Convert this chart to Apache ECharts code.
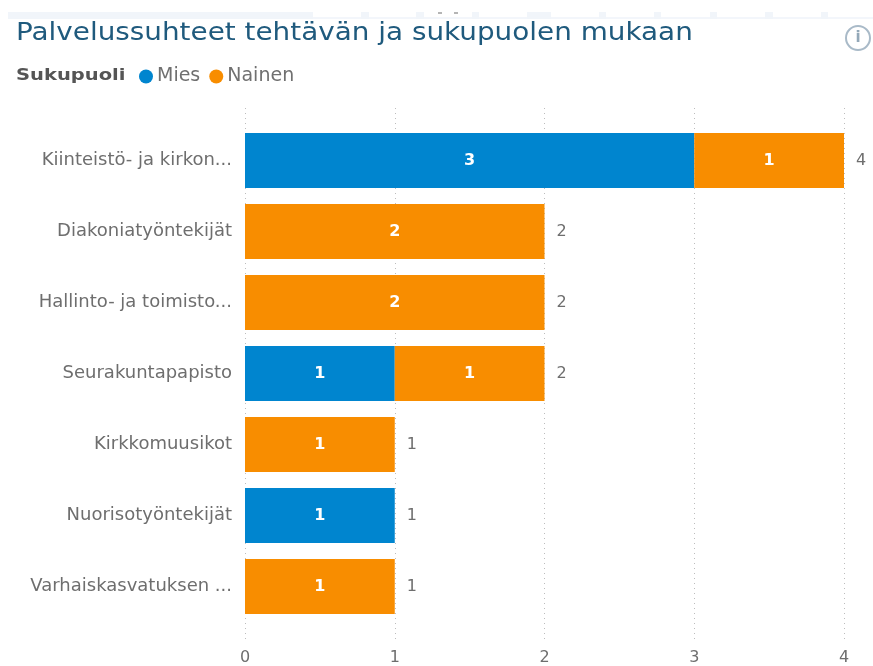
<!DOCTYPE html>
<html>
<head>
<meta charset="utf-8">
<title>Palvelussuhteet</title>
<script src="https://cdn.jsdelivr.net/npm/echarts@6/dist/echarts.min.js"></script>
<style>
    html, body { margin: 0; padding: 0; background: #fff; }
    #chart { width: 873px; height: 666px; }
</style>
</head>
<body>
<div id="chart"></div>
<script>
const categories = ['Kiinteistö- ja kirkon...', 'Diakoniatyöntekijät', 'Hallinto- ja toimisto...', 'Seurakuntapapisto', 'Kirkkomuusikot', 'Nuorisotyöntekijät', 'Varhaiskasvatuksen ...'];
const mies = [3, null, null, 1, null, 1, null];
const nainen = [1, 2, 2, 1, 1, null, 1];
const totals = [4, 2, 2, 2, 1, 1, 1];
const ticks = [0, 1, 2, 3, 4];

const fontFamily = '"DejaVu Sans", Verdana, sans-serif';
const blue = '#0085cf';
const orange = '#f88d00';
const grey = '#6e6e6e';

// remains of the page above the chart: [x, width]
const stripBlocks = [[361, 8], [416, 8], [472, 7], [527, 24], [599, 7], [654, 7], [710, 7], [765, 8], [821, 7]];
const stripMarks = [[438, 4], [454, 4]];

let chart = echarts.init(document.getElementById('chart'));

function barLabel() {
    return {
        show: true,
        color: '#fff',
        fontFamily: fontFamily,
        fontSize: 16,
        fontWeight: 'bold',
        formatter: (p) => p.value === null ? '' : p.value
    };
}

let option = {
    animation: false,
    backgroundColor: '#fff',
    legend: {
        data: ['Mies', 'Nainen'],
        left: 139,
        top: 67,
        padding: 0,
        itemGap: 9,
        itemWidth: 16,
        itemHeight: 14,
        icon: 'circle',
        textStyle: { color: '#707070', fontFamily: fontFamily, fontSize: 19, padding: [0, 0, 0, -2] }
    },
    // the first grid only carries the taller dotted lines behind the bars
    grid: [
        { left: 245, right: 29, top: 108, height: 532 },
        { left: 245, right: 29, top: 125, height: 497 }
    ],
    xAxis: [
        {
            type: 'value',
            gridIndex: 0,
            min: 0,
            max: 4,
            interval: 1,
            axisLine: { show: false },
            axisTick: { show: false },
            axisLabel: {
                color: grey,
                fontFamily: fontFamily,
                fontSize: 16,
                margin: 10,
                formatter: (v) => ticks.includes(v) ? v : ''
            },
            splitLine: { show: true, lineStyle: { color: '#bdbdbd', type: [1, 4], width: 1 } }
        },
        {
            type: 'value',
            gridIndex: 1,
            min: 0,
            max: 4,
            interval: 1,
            axisLine: { show: false },
            axisTick: { show: false },
            axisLabel: { show: false },
            splitLine: { show: false }
        }
    ],
    yAxis: [
        {
            type: 'category',
            gridIndex: 0,
            data: categories,
            inverse: true,
            axisLine: { show: false },
            axisTick: { show: false },
            axisLabel: { show: false }
        },
        {
            type: 'category',
            gridIndex: 1,
            data: categories,
            inverse: true,
            axisLine: { show: false },
            axisTick: { show: false },
            axisLabel: { color: grey, fontFamily: fontFamily, fontSize: 18, margin: 13 }
        }
    ],
    series: [
        {
            name: 'Mies',
            type: 'bar',
            xAxisIndex: 1,
            yAxisIndex: 1,
            stack: 'total',
            barWidth: 55,
            data: mies,
            itemStyle: { color: blue },
            label: barLabel()
        },
        {
            name: 'Nainen',
            type: 'bar',
            xAxisIndex: 1,
            yAxisIndex: 1,
            stack: 'total',
            barWidth: 55,
            data: nainen,
            itemStyle: { color: orange },
            label: barLabel()
        },
        {
            // zero width, only puts the total next to the end of the stack
            name: 'Yhteensä',
            type: 'bar',
            xAxisIndex: 1,
            yAxisIndex: 1,
            stack: 'total',
            barWidth: 55,
            data: totals.map(() => 0),
            itemStyle: { color: 'transparent' },
            label: {
                show: true,
                position: 'right',
                distance: 12,
                color: grey,
                fontFamily: fontFamily,
                fontSize: 16,
                formatter: (p) => totals[p.dataIndex]
            }
        }
    ],
    graphic: [
        {
            type: 'rect',
            silent: true,
            shape: { x: 8, y: 12, width: 305, height: 7 },
            style: { fill: '#f1f5fa' }
        },
        {
            type: 'rect',
            silent: true,
            shape: { x: 313, y: 17, width: 560, height: 2 },
            style: { fill: '#f3f6fb' }
        },
        ...stripBlocks.map(b => ({
            type: 'rect',
            silent: true,
            shape: { x: b[0], y: 12, width: b[1], height: 7 },
            style: { fill: '#f1f5fa' }
        })),
        ...stripMarks.map(b => ({
            type: 'rect',
            silent: true,
            shape: { x: b[0], y: 12, width: b[1], height: 2 },
            style: { fill: '#b5b5b5' }
        })),
        {
            // the reference is stretched sideways, so the headings are scaled too
            type: 'text',
            silent: true,
            x: 16,
            y: 34,
            scaleX: 1.16,
            style: {
                text: 'Palvelussuhteet tehtävän ja sukupuolen mukaan',
                fill: '#1f5a7d',
                font: '24px "DejaVu Sans"',
                verticalAlign: 'middle'
            }
        },
        {
            type: 'text',
            silent: true,
            x: 16,
            y: 76,
            scaleX: 1.22,
            style: {
                text: 'Sukupuoli',
                fill: '#555',
                font: 'bold 16px "DejaVu Sans"',
                verticalAlign: 'middle'
            }
        },
        {
            type: 'circle',
            silent: true,
            shape: { cx: 858, cy: 38, r: 12 },
            style: { fill: '#fff', stroke: '#a9bac8', lineWidth: 2 }
        },
        {
            type: 'text',
            silent: true,
            style: {
                x: 858,
                y: 38,
                text: 'i',
                align: 'center',
                verticalAlign: 'middle',
                fill: '#93a8b8',
                font: 'bold 15px "DejaVu Sans"'
            }
        }
    ]
};

chart.setOption(option);
</script>
</body>
</html>
